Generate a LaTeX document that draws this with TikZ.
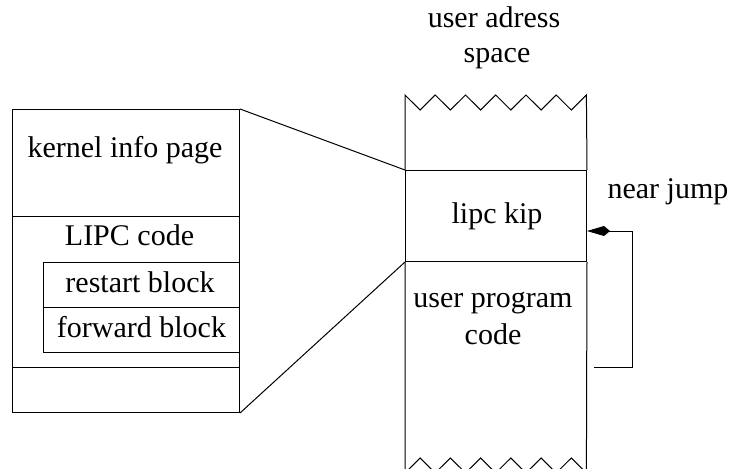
\documentclass[tikz,border=0pt]{standalone}
\usepackage{fontspec}
\setmainfont{Liberation Serif}
\newfontfamily\labelface{Liberation Serif}
\usetikzlibrary{arrows.meta}
\begin{document}
\begin{tikzpicture}[x=1pt,y=-1pt,line width=1pt,
  lbl/.style={anchor=base,inner sep=0pt,font=\labelface\fontsize{30}{35}\selectfont},
  blk/.style={draw,inner sep=0pt,anchor=north west},
  jumptip/.style={-{Kite[length=23pt,width=10pt,inset=6pt]}}]
\useasboundingbox (0,0) rectangle (732,469);

% kernel info page, enlarged on the left
\node[blk,minimum width=227pt,minimum height=303pt] (kbox) at (12,109) {};
\coordinate (kdiv1) at (12,216);
\coordinate (kdiv2) at (12,367);
\draw (kdiv1) -- (kdiv1 -| kbox.east);
\draw (kdiv2) -- (kdiv2 -| kbox.east);
\node[blk,minimum width=196.5pt,minimum height=45pt] (restart) at (42.5,262) {};
\node[blk,minimum width=196.5pt,minimum height=45pt] (forward) at (42.5,307) {};
\node[lbl] (tkip) at (125,157) {kernel info page};
\node[lbl] (tlipc) at (129.5,245) {LIPC code};
\node[lbl] (trestart) at (140,292) {restart block};
\node[lbl] (tforward) at (141.5,337) {forward block};

% user address space column
\node[draw,inner sep=0pt,anchor=north west,minimum width=181pt,minimum height=91pt] (lipc) at (405,170) {};
\draw (lipc.north west) -- (405,95)
  -- (420.1,110) -- (435.2,95) -- (450.4,110) -- (465.5,95) -- (480.6,110) -- (495.7,95)
  -- (510.8,110) -- (526,95) -- (541.1,110) -- (556.2,95) -- (571.3,110) -- (586.4,95)
  -- (lipc.north east);
\draw (lipc.south west) -- (405,473)
  -- (420.1,458) -- (435.2,473) -- (450.4,458) -- (465.5,473) -- (480.6,458) -- (495.7,473)
  -- (510.8,458) -- (526,473) -- (541.1,458) -- (556.2,473) -- (571.3,458) -- (586.4,473)
  -- (lipc.south east);
\node[lbl] (tuas1) at (494,27) {user adress};
\node[lbl] (tuas2) at (497,62) {space};
\node[lbl] (tlk) at (497,223) {lipc kip};
\node[lbl] (tupc1) at (493,307) {user program};
\node[lbl] (tupc2) at (493,344) {code};

% zoom lines between the two views
\draw (kbox.north east) -- (lipc.north west);
\draw (kbox.south east) -- (lipc.south west);

% near jump
\coordinate (jfrom) at (594,367);
\coordinate (jturn) at (632,231);
\draw[jumptip] (jfrom) -| (jturn) -- (jturn -| lipc.east);
\node[lbl] (tjump) at (668,198) {near jump};
\end{tikzpicture}
\end{document}
